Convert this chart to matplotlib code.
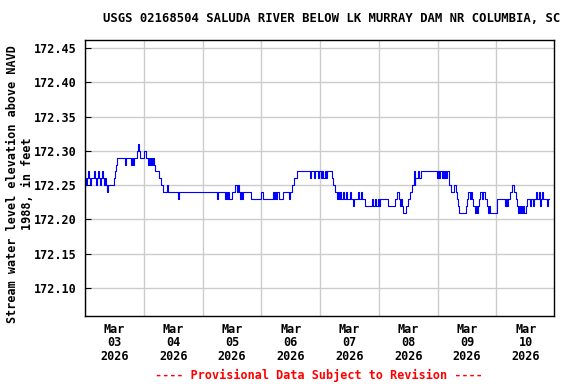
import numpy as np
import pandas as pd
import matplotlib
matplotlib.use("Agg")
import matplotlib.pyplot as plt
import matplotlib.dates as mdates

# hours since 2026-03-03 00:00 where the reading changes, and the new reading (ft)
hours = [0.0, 0.4, 0.8, 1.2, 1.6, 2.0, 2.4, 3.7, 4.1, 4.5, 4.9, 5.3, 5.7, 6.1, 6.5, 6.9,
         7.3, 7.8, 8.2, 8.6, 9.0, 9.4, 11.8, 12.2, 12.7, 13.1, 16.3, 16.7, 18.8, 19.2,
         19.6, 20.0, 21.2, 21.6, 22.0, 22.5, 22.9, 24.1, 24.9, 25.7, 26.1, 26.5, 26.9,
         27.3, 27.8, 28.2, 28.6, 30.2, 31.0, 31.8, 33.5, 33.9, 38.0, 38.4, 53.9, 54.3,
         57.1, 57.6, 58.0, 58.4, 58.8, 60.0, 61.2, 62.0, 62.4, 62.9, 63.3, 63.7, 64.1,
         64.5, 67.8, 71.8, 72.7, 76.7, 77.1, 77.6, 78.0, 78.4, 79.2, 80.8, 83.3, 83.7,
         84.5, 85.3, 86.5, 91.8, 92.4, 93.5, 94.1, 95.1, 95.7, 96.3, 96.7, 97.2, 97.8,
         98.4, 99.0, 100.8, 101.2, 102.0, 102.9, 103.3, 103.7, 104.1, 104.5, 105.3,
         105.7, 106.5, 106.9, 108.2, 108.6, 109.4, 109.8, 111.4, 111.8, 112.7, 113.1,
         114.3, 117.2, 117.6, 118.4, 118.8, 119.6, 120.0, 120.4, 123.7, 126.5, 127.3,
         128.2, 128.6, 129.0, 129.4, 129.8, 131.2, 131.8, 132.7, 133.7, 134.3, 134.6,
         134.9, 135.9, 136.5, 137.2, 143.7, 144.1, 144.5, 144.9, 145.7, 146.1, 146.5,
         146.9, 147.4, 147.8, 148.6, 149.4, 150.6, 151.4, 151.8, 152.3, 152.7, 155.5,
         155.9, 156.3, 157.2, 157.6, 158.0, 158.4, 159.2, 159.6, 160.0, 160.4, 160.8,
         161.2, 162.1, 162.5, 163.3, 164.1, 164.5, 164.9, 165.3, 168.2, 171.4, 171.8,
         172.3, 172.7, 173.5, 174.3, 175.1, 175.9, 176.3, 176.7, 177.1, 177.6, 178.0,
         178.4, 178.8, 179.2, 180.0, 180.4, 181.6, 182.0, 182.9, 183.3, 184.1, 184.5,
         185.3, 185.7, 186.1, 186.5, 186.9, 188.2, 188.6, 189.0, 189.4]
level = [172.26, 172.25, 172.26, 172.27, 172.26, 172.25, 172.26, 172.27, 172.26, 172.25,
         172.26, 172.27, 172.26, 172.25, 172.26, 172.27, 172.26, 172.25, 172.26, 172.25,
         172.24, 172.25, 172.26, 172.27, 172.28, 172.29, 172.28, 172.29, 172.28, 172.29,
         172.28, 172.29, 172.30, 172.31, 172.30, 172.29, 172.29, 172.30, 172.29, 172.28,
         172.29, 172.28, 172.29, 172.28, 172.29, 172.28, 172.27, 172.26, 172.25, 172.24,
         172.25, 172.24, 172.23, 172.24, 172.23, 172.24, 172.23, 172.24, 172.23, 172.24,
         172.23, 172.24, 172.25, 172.24, 172.25, 172.24, 172.23, 172.24, 172.23, 172.24,
         172.23, 172.24, 172.23, 172.24, 172.23, 172.24, 172.23, 172.24, 172.23, 172.24,
         172.23, 172.24, 172.25, 172.26, 172.27, 172.26, 172.27, 172.26, 172.27, 172.26,
         172.27, 172.26, 172.27, 172.26, 172.27, 172.26, 172.27, 172.26, 172.25, 172.24,
         172.23, 172.24, 172.23, 172.24, 172.23, 172.24, 172.23, 172.24, 172.23, 172.24,
         172.23, 172.22, 172.23, 172.24, 172.23, 172.24, 172.23, 172.22, 172.23, 172.22,
         172.23, 172.22, 172.23, 172.22, 172.23, 172.22, 172.23, 172.24, 172.23, 172.22,
         172.23, 172.22, 172.21, 172.22, 172.23, 172.24, 172.25, 172.27, 172.25, 172.26,
         172.27, 172.26, 172.27, 172.26, 172.27, 172.26, 172.27, 172.26, 172.27, 172.26,
         172.27, 172.26, 172.27, 172.25, 172.24, 172.25, 172.24, 172.23, 172.22, 172.21,
         172.22, 172.23, 172.24, 172.23, 172.24, 172.23, 172.22, 172.21, 172.22, 172.21,
         172.22, 172.23, 172.24, 172.23, 172.24, 172.23, 172.22, 172.21, 172.22, 172.21,
         172.23, 172.22, 172.23, 172.22, 172.23, 172.24, 172.25, 172.24, 172.23, 172.22,
         172.21, 172.22, 172.21, 172.22, 172.21, 172.22, 172.21, 172.22, 172.23, 172.22,
         172.23, 172.22, 172.23, 172.24, 172.23, 172.24, 172.22, 172.23, 172.24, 172.23,
         172.23, 172.22, 172.23, 172.23]

yticks = [172.10, 172.15, 172.20, 172.25, 172.30, 172.35, 172.40, 172.45]
start = pd.Timestamp("2026-03-03")
times = start + pd.to_timedelta(hours, unit="h")

plt.rcParams["font.family"] = "DejaVu Sans Mono"
plt.rcParams["font.weight"] = "bold"
fs = 8.5

fig = plt.figure(figsize=(5.76, 3.84), dpi=100)
ax = fig.add_axes([85/576, 1-316/384, 469/576, 276/384])

ax.plot(times, level, color="#0000ff", lw=0.8, drawstyle="steps-post")

ax.set_xlim(start, start + pd.Timedelta(hours=191.5))
ax.set_ylim(172.059, 172.462)
ax.set_yticks(yticks)
ax.set_yticklabels(["%.2f" % v for v in yticks], fontsize=fs, fontweight="bold")
ax.tick_params(axis="y", direction="in", length=4, width=0.8, pad=6, colors="black")

ax.xaxis.set_major_locator(mdates.DayLocator())
ax.xaxis.set_major_formatter(plt.NullFormatter())
ax.xaxis.set_minor_locator(mdates.HourLocator(byhour=[12]))
ax.xaxis.set_minor_formatter(mdates.DateFormatter("%b\n%d\n%Y"))
ax.tick_params(axis="x", which="both", length=0)
ax.tick_params(axis="x", which="minor", pad=5, labelsize=fs)
for lab in ax.get_xticklabels(minor=True):
    lab.set_fontweight("bold")
    lab.set_linespacing(1.05)

ax.grid(True, which="major", color="#cccccc", lw=1)
ax.set_axisbelow(True)
for s in ax.spines.values():
    s.set_color("black")
    s.set_linewidth(1)

fig.text(20/576, 1-184/384, "Stream water level elevation above NAVD\n1988, in feet",
         rotation=90, ha="center", va="center", fontsize=fs, fontweight="bold",
         linespacing=1.25, multialignment="center")

fig.text(332/576, 1-19/384, "USGS 02168504 SALUDA RIVER BELOW LK MURRAY DAM NR COLUMBIA, SC",
         ha="center", va="center", fontsize=8.8, fontweight="bold")
fig.text(319/576, 1-375/384, "---- Provisional Data Subject to Revision ----",
         ha="center", va="center", fontsize=fs, fontweight="bold", color="red")

fig.savefig("out.png", dpi=100)
